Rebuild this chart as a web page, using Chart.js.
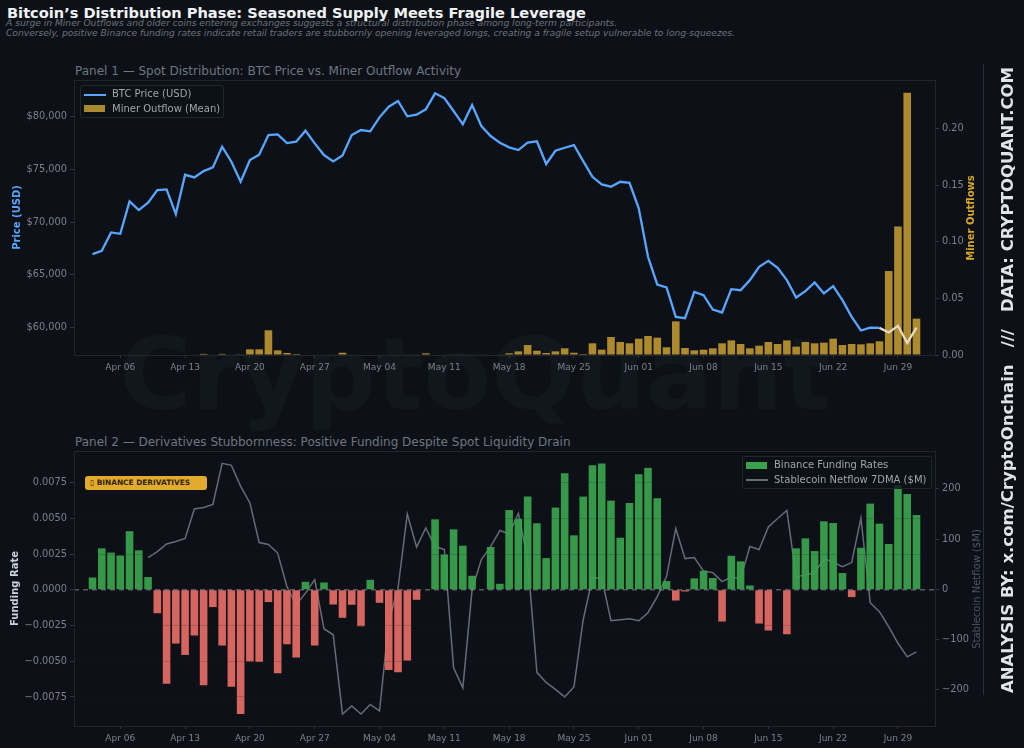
<!DOCTYPE html>
<html>
<head>
<meta charset="utf-8">
<title>Bitcoin's Distribution Phase</title>
<script src="https://cdn.jsdelivr.net/npm/chart.js@4/dist/chart.umd.js"></script>
<style>
  html, body { margin: 0; background: #0d1117; }
  body { width: 1024px; height: 748px; position: relative; overflow: hidden; font-family: "DejaVu Sans", sans-serif; }
  .abs { position: absolute; white-space: pre; }
  canvas { position: absolute; left: 0; }
  h1 { position: absolute; margin: 0; left: 7px; top: 4px; font-size: 14.6px; line-height: 18px; font-weight: bold; color: #f0f3f6; white-space: pre; }
  .sub { left: 6px; font-size: 9.15px; line-height: 11px; font-style: italic; color: #6b727b; }
  .panel-title { left: 75px; font-size: 12px; line-height: 14px; color: #6e7681; }
  .legend { border: 1px solid #21262d; background: rgba(13, 17, 23, 0.8); border-radius: 2px; box-sizing: border-box; }
  .legend span { position: absolute; white-space: pre; font-size: 10px; line-height: 12px; color: #a0a5ab; }
  .legend i { position: absolute; display: block; }
  .badge { left: 85px; top: 476px; width: 122px; height: 14px; background: #e3ab2e; border-radius: 3px; color: #33260a; font-size: 7.4px; line-height: 14px; font-weight: bold; text-indent: 5px; }
  .wm { left: 119px; top: 315px; font-size: 99px; line-height: 120px; font-weight: bold; color: #12171d; }
  .side-rule { left: 983px; top: 64px; width: 1px; height: 631px; background: #2a3038; }
  .pin { width: 0; height: 0; }
  .pin div { position: absolute; white-space: pre; transform: translate(-50%, -50%) rotate(-90deg); }
  .side { font-size: 16.5px; line-height: 18px; font-weight: bold; color: #dfe4e9; }
  .y-title { font-size: 10px; line-height: 12px; }
</style>
</head>
<body>
<div class="abs wm">CryptoQuant</div>

<h1>Bitcoin’s Distribution Phase: Seasoned Supply Meets Fragile Leverage</h1>
<div class="abs sub" style="top:18px">A surge in Miner Outflows and older coins entering exchanges suggests a structural distribution phase among long-term participants.</div>
<div class="abs sub" style="top:28px">Conversely, positive Binance funding rates indicate retail traders are stubbornly opening leveraged longs, creating a fragile setup vulnerable to long-squeezes.</div>

<div class="abs panel-title" style="top:64px">Panel 1 — Spot Distribution: BTC Price vs. Miner Outflow Activity</div>
<canvas id="spotChart" width="985" height="300" style="top:79px"></canvas>

<div class="abs panel-title" style="top:435px">Panel 2 — Derivatives Stubbornness: Positive Funding Despite Spot Liquidity Drain</div>
<canvas id="derivChart" width="985" height="297" style="top:450px"></canvas>

<div class="abs pin" style="left:971px;top:218px"><div class="y-title" style="color:#d4a72c;font-weight:bold">Miner Outflows</div></div>
<div class="abs pin" style="left:977px;top:589px"><div class="y-title" style="color:#4f565f">Stablecoin Netflow ($M)</div></div>

<div class="abs legend" style="left:80px;top:85px;width:144px;height:33px">
  <i style="left:3px;top:8px;width:22px;height:2px;background:#58a6ff"></i>
  <span style="left:31px;top:2px">BTC Price (USD)</span>
  <i style="left:3px;top:19px;width:21px;height:7px;background:#a98a2e"></i>
  <span style="left:31px;top:17px">Miner Outflow (Mean)</span>
</div>

<div class="abs legend" style="left:742px;top:456px;width:190px;height:33px">
  <i style="left:3px;top:5px;width:21px;height:7px;background:#3aa14d"></i>
  <span style="left:31px;top:2px">Binance Funding Rates</span>
  <i style="left:3px;top:22px;width:22px;height:1.5px;background:#666c75"></i>
  <span style="left:31px;top:17px">Stablecoin Netflow 7DMA ($M)</span>
</div>

<div class="abs badge">▯ BINANCE DERIVATIVES</div>

<div class="abs side-rule"></div>
<div class="abs pin" style="left:1008px;top:380px"><div class="side">ANALYSIS BY: x.com/CryptoOnchain   ///   DATA: CRYPTOQUANT.COM</div></div>

<script>
// Day index 0 is Apr 03, one value per day through Jul 01
const tickDays = [3, 10, 17, 24, 31, 38, 45, 52, 59, 66, 73, 80, 87];
const tickLabels = ["Apr 06", "Apr 13", "Apr 20", "Apr 27", "May 04", "May 11", "May 18", "May 25", "Jun 01", "Jun 08", "Jun 15", "Jun 22", "Jun 29"];

const btcPrice = [
  66970, 67280, 69020, 68890, 71960, 71140, 71830, 73030, 73100, 70760,
  74480, 74230, 74830, 75180, 77140, 75720, 73820, 75880, 76380, 78250,
  78310, 77490, 77610, 78660, 77460, 76350, 75750, 76320, 78250, 78720,
  78600, 79920, 80930, 81470, 80020, 80170, 80680, 82200, 81750, 80520,
  79260, 81090, 79100, 78150, 77520, 77080, 76820, 77520, 77650, 75500,
  76760, 77040, 77300, 75780, 74290, 73570, 73350, 73820, 73720, 71300,
  66710, 64090, 63810, 61020, 60900, 63390, 63080, 61720, 61440, 63650,
  63550, 64500, 65760, 66330, 65670, 64500, 62860, 63460, 64280, 63240,
  63930, 62600, 61020, 59730, 60010, 59980, 59540, 60170, 58560, 60010
];

const minerOutflow = [
  0, 0, 0, 0, 0, 0, 0, 0, 0, 0,
  0, 0, 0.001, 0, 0.001, 0, 0.0006, 0.005, 0.005, 0.0218,
  0.0041, 0.0018, 0.0009, 0, 0, 0, 0.0005, 0.002, 0, 0,
  0, 0, 0, 0, 0.0005, 0.0005, 0.0015, 0, 0.0004, 0.0004,
  0.0004, 0.0004, 0.0005, 0, 0.0005, 0.0015, 0.0032, 0.0088, 0.0038, 0.0018,
  0.0032, 0.0059, 0.002, 0.0009, 0.0103, 0.0047, 0.0159, 0.0115, 0.0103, 0.0144,
  0.0168, 0.0153, 0.0068, 0.0297, 0.0062, 0.0041, 0.0047, 0.0059, 0.0103, 0.0129,
  0.0097, 0.0059, 0.0082, 0.0115, 0.0097, 0.0129, 0.0074, 0.0115, 0.0103, 0.0109,
  0.0144, 0.0088, 0.0097, 0.0094, 0.0103, 0.0121, 0.0741, 0.1135, 0.2315, 0.0321
];

const fundingRate = [
  0.00086, 0.0029, 0.0026, 0.0024, 0.0041, 0.00276, 0.00089, -0.00164, -0.00657, -0.00376,
  -0.00456, -0.0032, -0.00668, -0.00121, -0.0039, -0.00678, -0.00869, -0.00502, -0.00505, -0.00086,
  -0.00584, -0.00381, -0.00474, 0.00056, -0.0039, 0.00051, -0.00103, -0.00196, -0.00105, -0.00255,
  0.0007, -0.00091, -0.00561, -0.00577, -0.00495, -0.0007, 0, 0.00493, 0.00248, 0.00423,
  0.00308, 0.00098, 0, 0.00299, 0.00042, 0.00558, 0.00498, 0.00652, 0.00465, 0.00222,
  0.00575, 0.00815, 0.00381, 0.00652, 0.00871, 0.00883, 0.00624, 0.00364, 0.00607, 0.00808,
  0.00853, 0.0064, 0.00061, -0.00075, -0.00012, 0.0008, 0.00133, 0.00082, -0.00222, 0.00238,
  0.00199, 0.0003, -0.00236, -0.00285, 0, -0.00311, 0.0029, 0.0036, 0.00271, 0.00479,
  0.00467, 0.00117, -0.00051, 0.00294, 0.00603, 0.00463, 0.0032, 0.00731, 0.0067, 0.00523
];

const stableNetflow = [
  null, null, null, null, null, null, 63, 75, 90, 95,
  101, 160, 163, 169, 251, 247, 205, 172, 93, 89,
  72, 5, -31, -8, 19, -79, -91, -249, -233, -249,
  -230, -243, -65, 2, 150, 84, 122, 85, 79, -157,
  -197, -1, 59, 85, 117, 110, 151, 59, -166, -186,
  -200, -215, -195, -61, 22, 22, -63, -61, -59, -63,
  -47, -15, 25, 121, 61, 63, 36, 33, 15, 24,
  21, 85, 79, 124, 141, 157, 24, 29, 32, 61,
  54, 45, 53, 142, -27, -45, -75, -108, -135, -125
];

const xMin = -2;
const xMax = 91;
// The price line turns pale where it crosses the tall outflow bars
const paleLineFrom = 85;

const toPoints = (values) => values.map((y, x) => ({ x, y }));

// Custom plugin to close the plot area with a thin frame
const frameBorder = {
  id: "frameBorder",
  afterDraw: (chart) => {
    const { ctx, chartArea: a } = chart;
    ctx.save();
    ctx.strokeStyle = "#21262d";
    ctx.lineWidth = 1;
    ctx.strokeRect(a.left + 0.5, a.top + 0.5, a.right - a.left, a.bottom - a.top);
    ctx.restore();
  },
};

const tickColor = "#7b8088";
const axisLine = "#30363d";

function dayAxis(height) {
  return {
    type: "linear",
    min: xMin,
    max: xMax,
    offset: false,
    afterBuildTicks: (axis) => {
      axis.ticks = tickDays.map((value) => ({ value }));
    },
    afterFit: (axis) => {
      axis.height = height;
      axis.paddingLeft = 0;
      axis.paddingRight = 0;
    },
    grid: { offset: false, drawOnChartArea: false, tickLength: 3, color: axisLine },
    border: { display: false },
    ticks: {
      color: tickColor,
      font: { size: 9, family: "DejaVu Sans" },
      padding: 4,
      maxRotation: 0,
      autoSkip: false,
      callback: (value) => tickLabels[tickDays.indexOf(value)],
    },
  };
}

function valueAxis(side, min, max, stepSize, callback, title) {
  const axis = {
    type: "linear",
    position: side,
    min,
    max,
    afterFit: (scale) => {
      scale.width = side === "left" ? 74 : 50;
      scale.paddingTop = 0;
      scale.paddingBottom = 0;
    },
    afterBuildTicks: (scale) => {
      const ticks = [];
      const first = Math.ceil(min / stepSize);
      for (let i = first; i * stepSize <= max; i++) {
        ticks.push({ value: i * stepSize });
      }
      scale.ticks = ticks;
    },
    grid: { drawOnChartArea: false, tickLength: 4, color: axisLine },
    border: { display: false },
    ticks: {
      color: tickColor,
      font: { size: 9.8, family: "DejaVu Sans" },
      padding: 3,
      callback,
    },
  };
  if (title) {
    axis.title = {
      display: true,
      text: title.text,
      color: title.color,
      font: { size: 10, weight: "bold", family: "DejaVu Sans" },
      padding: { top: title.offset, bottom: 0 },
    };
  }
  return axis;
}

const minusSign = (text) => text.replace("-", "\u2212");

// Panel 1, price line over the outflow bars
const spotChart = new Chart(document.getElementById("spotChart"), {
  type: "bar",
  data: {
    datasets: [
      {
        type: "line",
        label: "BTC Price (USD)",
        data: toPoints(btcPrice),
        yAxisID: "y",
        borderColor: "#58a6ff",
        borderWidth: 2.3,
        pointRadius: 0,
        tension: 0,
        order: 0,
        segment: {
          borderColor: (c) => (c.p0.parsed.x >= paleLineFrom ? "#e2dcc2" : undefined),
        },
      },
      {
        label: "Miner Outflow (Mean)",
        data: toPoints(minerOutflow),
        yAxisID: "y2",
        backgroundColor: "#ad8a2e",
        barPercentage: 0.82,
        categoryPercentage: 1,
        order: 1,
      },
    ],
  },
  options: {
    responsive: false,
    animation: false,
    layout: { padding: { top: 1 } },
    plugins: { legend: { display: false }, tooltip: { enabled: false } },
    scales: {
      x: dayAxis(24),
      y: valueAxis("left", 57410, 83460, 5000, (v) => "$" + v.toLocaleString("en-US"), {
        text: "Price (USD)", color: "#58a6ff", offset: 11.5,
      }),
      y2: valueAxis("right", 0, 0.2427, 0.05, (v) => v.toFixed(2)),
    },
  },
  plugins: [frameBorder],
});

// Panel 2, funding bars over the stablecoin line, dashed zero line on top
const fundingAxis = valueAxis("left", -0.00953, 0.00971, 0.0025, (v) => minusSign(v.toFixed(4)), {
  text: "Funding Rate", color: "#c9d1d9", offset: 9,
});
fundingAxis.grid = {
  drawOnChartArea: true,
  z: 1,
  tickLength: 4,
  tickColor: axisLine,
  color: "rgba(24, 28, 34, 0.2)",
};

const derivChart = new Chart(document.getElementById("derivChart"), {
  type: "bar",
  data: {
    datasets: [
      {
        type: "line",
        label: "Zero",
        data: [{ x: xMin, y: 0 }, { x: xMax, y: 0 }],
        yAxisID: "y",
        borderColor: "rgba(205, 210, 215, 0.65)",
        borderWidth: 1,
        borderDash: [5, 4],
        pointRadius: 0,
        order: 0,
      },
      {
        label: "Binance Funding Rates",
        data: toPoints(fundingRate),
        yAxisID: "y",
        backgroundColor: fundingRate.map((v) => (v >= 0 ? "rgba(58, 163, 78, 0.93)" : "rgba(226, 106, 100, 0.95)")),
        barPercentage: 0.82,
        categoryPercentage: 1,
        order: 1,
      },
      {
        type: "line",
        label: "Stablecoin Netflow 7DMA ($M)",
        data: toPoints(stableNetflow),
        yAxisID: "y2",
        borderColor: "#666c75",
        borderWidth: 1.5,
        pointRadius: 0,
        tension: 0,
        order: 2,
      },
    ],
  },
  options: {
    responsive: false,
    animation: false,
    layout: { padding: { top: 1 } },
    plugins: { legend: { display: false }, tooltip: { enabled: false } },
    scales: {
      x: dayAxis(21),
      y: fundingAxis,
      y2: valueAxis("right", -273, 275.6, 100, (v) => minusSign(String(v))),
    },
  },
  plugins: [frameBorder],
});
</script>
</body>
</html>
